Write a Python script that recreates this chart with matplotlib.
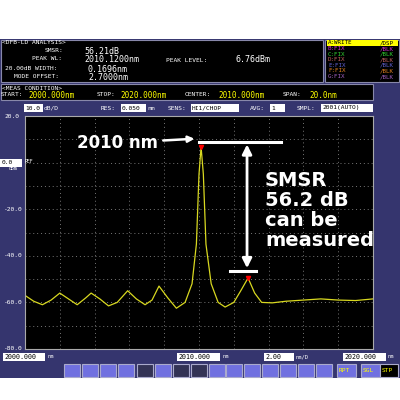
import matplotlib.pyplot as plt
from matplotlib.patches import Rectangle

wl = [2000.0, 2000.5, 2001.0, 2001.5, 2002.0, 2002.5, 2003.0, 2003.5, 2003.8, 2004.3,
      2004.8, 2005.3, 2005.9, 2006.4, 2006.9, 2007.3, 2007.7, 2008.2, 2008.7, 2009.2,
      2009.6, 2009.85, 2010.0, 2010.12, 2010.25, 2010.4, 2010.7, 2011.1, 2011.5, 2012.0,
      2012.4, 2012.82, 2013.2, 2013.6, 2014.2, 2015.0, 2016.0, 2017.0, 2018.0, 2019.0, 2020.0]
level = [-57, -59.5, -61, -59, -56, -58.5, -61, -58, -56, -58.5,
         -61.5, -60, -55, -58.5, -61, -59, -53, -58, -62.5, -60,
         -52, -35, -5, 6.76, -5, -35, -52, -60, -62, -60,
         -55, -49.5, -56, -60, -60.2, -59.5, -59, -58.5, -59, -59.2, -58.5]
peak_wl, peak_lvl = 2010.12, 6.76
side_wl, side_lvl = 2012.82, -49.5
y_ticks = [20, 0, -20, -40, -60, -80]
y_labels = ["20.0", "0.0", "-20.0", "-40.0", "-60.0", "-80.0"]

W, H = 400, 400
NAVY = "#35356e"
fig = plt.figure(figsize=(4, 4), dpi=100)
fig.patch.set_facecolor("white")


def box(x, y, w, h, fc, ec="none"):
    fig.patches.append(Rectangle((x / W, 1 - (y + h) / H), w / H, h / H, transform=fig.transFigure,
                                 facecolor=fc, edgecolor=ec, lw=0.8, zorder=0))


def txt(x, y, s, c="white", size=5.5, **kw):
    fig.text(x / W, 1 - y / H, s, color=c, fontsize=size, va="center", family="DejaVu Sans Mono", **kw)


box(0, 39, 400, 339, NAVY)
box(1, 40, 322, 42, "black", "#8888aa")
box(325, 40, 74, 42, "black", "#8888aa")
box(1, 84, 372, 16, "black", "#8888aa")

txt(2, 43, "<DFB-LD ANALYSIS>", size=4.5)
txt(45, 50, "SMSR:", size=4.5)
txt(84, 51, "56.21dB", size=6)
txt(32, 59, "PEAK WL:", size=4.5)
txt(84, 60, "2010.1200nm", size=6)
txt(166, 60, "PEAK LEVEL:", size=4.5)
txt(236, 60, "6.76dBm", size=6)
txt(5, 68, "20.00dB WIDTH:", size=4.5)
txt(88, 69, "0.1696nm", size=6)
txt(14, 76, "MODE OFFSET:", size=4.5)
txt(88, 77, "2.7000nm", size=6)

traces = [("A:WRITE", "/DSP", "yellow"), ("B:FIX", "/BLK", "#d030d0"), ("C:FIX", "/BLK", "#30d030"),
          ("D:FIX", "/BLK", "#c06060"), ("E:FIX", "/BLK", "#6060d0"), ("F:FIX", "/BLK", "#e08020"),
          ("G:FIX", "/BLK", "#a060c0")]
for i, (a, b, c) in enumerate(traces):
    yy = 43 + i * 5.6
    if i == 0:
        box(327, yy - 2.6, 71, 5.2, "yellow")
        txt(328, yy, a, c="black", size=4.2)
        txt(380, yy, b, c="black", size=4.2)
    else:
        txt(328, yy, a, c=c, size=4.2)
        txt(380, yy, b, c=c, size=4.2)

txt(2, 88, "<MEAS CONDITION>", size=4.5)
txt(1, 95, "START:", size=4.5)
txt(28, 95, "2000.000nm", c="yellow", size=5.5)
txt(97, 95, "STOP:", size=4.5)
txt(120, 95, "2020.000nm", c="yellow", size=5.5)
txt(185, 95, "CENTER:", size=4.5)
txt(218, 95, "2010.000nm", c="yellow", size=5.5)
txt(283, 95, "SPAN:", size=4.5)
txt(309, 95, "20.0nm", c="yellow", size=5.5)

for x0, w, s in [(24, 19, "10.0"), (121, 25, "0.050"), (191, 48, "HI1/CHOP"), (270, 15, "1"), (321, 52, "2001(AUTO)")]:
    box(x0, 104, w, 8, "white")
    txt(x0 + 1, 108, s, c="black", size=4.5)
txt(44, 108, "dB/D", size=4.5)
txt(101, 108, "RES:", size=4.5)
txt(147, 108, "nm", size=4.5)
txt(168, 108, "SENS:", size=4.5)
txt(250, 108, "AVG:", size=4.5)
txt(297, 108, "SMPL:", size=4.5)

ax = fig.add_axes([25 / W, 1 - 349 / H, 348 / W, 233 / H])
ax.set_zorder(2)
ax.set_facecolor("black")
ax.set_xlim(2000, 2020)
ax.set_ylim(-80, 20)
ax.set_xticks([2000 + 2 * i for i in range(11)])
ax.set_yticks(range(-80, 21, 10))
ax.grid(True, color="#777777", ls=(0, (1, 3)), lw=0.7)
ax.tick_params(labelbottom=False, labelleft=False, length=0)
for s in ax.spines.values():
    s.set_color("#aaaaaa")
ax.plot(wl, level, color="#d8d820", lw=0.9)
ax.plot([peak_wl], [peak_lvl], marker="v", color="red", ms=3)
ax.plot([side_wl], [side_lvl], marker="v", color="red", ms=3)

for v, s in zip(y_ticks, y_labels):
    yy = 116 + (20 - v) * 233 / 100
    if v == 0:
        box(0, yy - 4, 22, 8, "white")
        txt(2, yy, s, c="black", size=4.5)
        txt(25, yy - 1, "REF", size=3.5)
        txt(9, yy + 6, "dBm", size=3.5)
    else:
        txt(4, yy, s, size=4.5)

# Annotations
ax.plot([2010.0, 2014.7], [9.0, 9.0], color="white", lw=2.2)
ax.plot([2011.8, 2013.3], [-46.5, -46.5], color="white", lw=2.2)
ax.annotate("", xy=(2012.76, 9.0), xytext=(2012.76, -46.5),
            arrowprops=dict(arrowstyle="<|-|>", color="white", lw=2, mutation_scale=14))
ax.annotate("2010 nm", xy=(2009.9, 10.3), xytext=(2005.3, 8.4), color="white", fontsize=12,
            fontweight="bold", va="center", ha="center",
            arrowprops=dict(arrowstyle="-|>", color="white", lw=1.8, mutation_scale=9, shrinkA=2))
ax.text(2013.8, -20.6, "SMSR\n56.2 dB\ncan be\nmeasured", color="white", fontsize=14,
        fontweight="bold", va="center", ha="left", linespacing=1.08)

# bottom scale
for x0, w, s, u in [(3, 42, "2000.000", "nm"), (177, 43, "2010.000", "nm"), (264, 30, "2.00", "nm/D"), (343, 43, "2020.000", "nm")]:
    box(x0, 353, w, 8, "white")
    txt(x0 + 1, 357, s, c="black", size=4.8)
    txt(x0 + w + 2, 357, u, size=4)

btn_x = [64, 82, 100, 118, 137, 155, 173, 191, 209, 226, 244, 262, 280, 298, 316]
for i, x0 in enumerate(btn_x):
    box(x0, 364, 16, 13, "#7070e0" if i not in (4, 6, 7) else "#333355", "#aaaacc")
for x0, s in [(337, "RPT"), (361, "SGL"), (380, "STP")]:
    box(x0, 364, 19 if s != "STP" else 18, 13, "#7070e0" if s != "STP" else "black", "#aaaacc")
    txt(x0 + 2, 370.5, s, c="yellow", size=4.5)

fig.savefig("out.png", dpi=100, facecolor=fig.get_facecolor())
